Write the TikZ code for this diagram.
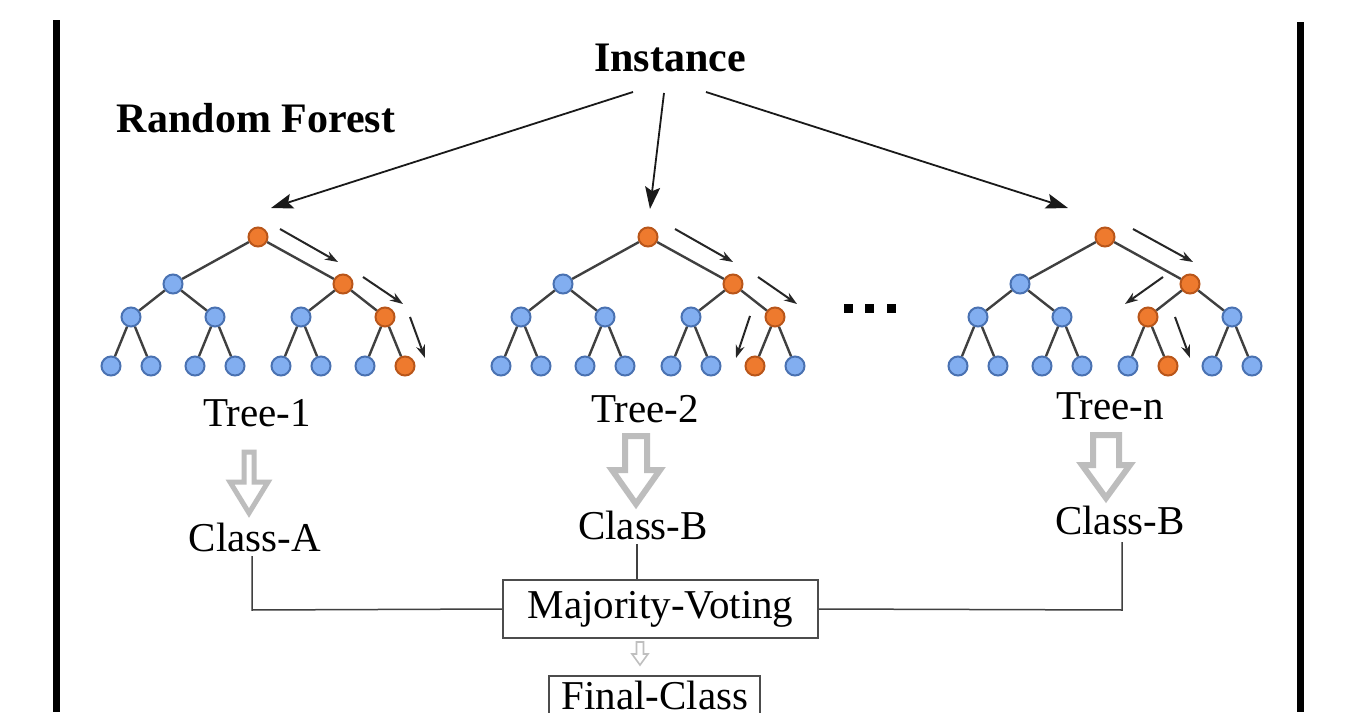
\documentclass[tikz,border=0pt]{standalone}
\usepackage{fontspec}
\setmainfont{Liberation Serif}
\usetikzlibrary{arrows.meta}
\definecolor{orng}{HTML}{EE7A2E}
\definecolor{orngd}{HTML}{B9561A}
\definecolor{blu}{HTML}{82AEF0}
\definecolor{blud}{HTML}{4A72B2}
\definecolor{edgec}{HTML}{404040}
\definecolor{hol}{HTML}{BDBDBD}
\tikzset{
  tn/.style={circle,draw=blud,fill=blu,line width=2pt,minimum size=19pt,inner sep=0pt},
  onode/.style={draw=orngd,fill=orng},
  edge/.style={draw=edgec,line width=2.4pt},
  pathar/.style={draw=black!85,line width=2pt,-{Stealth[length=13pt,width=9pt]}},
  bigar/.style={draw=black!90,line width=1.8pt,-{Stealth[length=22pt,width=15pt,inset=4pt]}},
  lab/.style={font=\fontsize{41}{46}\selectfont,inner sep=0pt},
  blab/.style={font=\fontsize{42}{46}\selectfont\bfseries,inner sep=0pt},
  conn/.style={draw=black!75,line width=1.5pt},
  boxn/.style={draw=black!70,line width=2pt,font=\fontsize{41}{46}\selectfont,inner sep=0pt},
  holar/.style={draw=hol,fill=white,line width=5pt,line join=miter},
  bar/.style={fill=black},
  % orange paths
  t1r/.style=onode, t1b/.style=onode, t1bb/.style=onode, t1bbb/.style=onode,
  t2r/.style=onode, t2b/.style=onode, t2bb/.style=onode, t2bba/.style=onode,
  tnr/.style=onode, tnb/.style=onode, tnba/.style=onode, tnbab/.style=onode,
}
% #1 id, #2 root x
\newcommand\drawtree[2]{%
  \node[tn,#1r/.try] (#1r) at (#2,237) {};
  \foreach \p/\dx in {a/-85,b/85}{
    \node[tn,#1\p/.try] (#1\p) at (#2+\dx,284) {};
    \draw[edge] (#1r) -- (#1\p);
  }
  \foreach \p/\q/\dx in {a/aa/-42,a/ab/42,b/ba/-42,b/bb/42}{
    \node[tn,#1\q/.try] (#1\q) at ([xshift=\dx pt,yshift=-33pt]#1\p.center) {};
    \draw[edge] (#1\p) -- (#1\q);
  }
  \foreach \q in {aa,ab,ba,bb}{
    \foreach \s/\dx in {a/-20,b/20}{
      \node[tn,#1\q\s/.try] (#1\q\s) at ([xshift=\dx pt,yshift=-49pt]#1\q.center) {};
      \draw[edge] (#1\q) -- (#1\q\s);
    }
  }
}
% hollow arrow: #1 cx, #2 top, #3 head start, #4 tip, #5 shaft hw, #6 head hw, #7 extra style
\newcommand\hollowarrow[7]{%
  \draw[holar,#7] (#1-#5,#2) -- (#1+#5,#2) -- (#1+#5,#3) -- (#1+#6,#3) -- (#1,#4)
     -- (#1-#6,#3) -- (#1-#5,#3) -- cycle;
}
\begin{document}
\begin{tikzpicture}[x=1pt,y=-1pt]
\useasboundingbox (0,0) rectangle (1360,727);
\fill[white] (0,0) rectangle (1360,727);
% side bars
\fill[bar] (53,20) rectangle (60,712);
\fill[bar] (1297,22) rectangle (1304,712);

% titles
\node[blab] (inst) at (670,58) {Instance};
\node[blab] (rf) at (256,118) {Random Forest};

% trees
\drawtree{t1}{258}
\drawtree{t2}{648}
\drawtree{tn}{1105}

% instance arrows
\coordinate (s1) at (633,92);
\coordinate (s2) at (664,93);
\coordinate (s3) at (706,92);
\coordinate (e1) at (271,208);
\coordinate (e2) at (650,209);
\coordinate (e3) at (1068,208);
\draw[bigar] (s1) -- (e1);
\draw[bigar] (s2) -- (e2);
\draw[bigar] (s3) -- (e3);

% path arrows tree 1
\draw[pathar] (280,229) -- (338,262);
\draw[pathar] (363,277) -- (403,304);
\draw[pathar] (410,317) -- (425,358);
% tree 2
\draw[pathar] (675,229) -- (733,262);
\draw[pathar] (758,277) -- (797,304);
\draw[pathar] (750,316) -- (736,358);
% tree n
\draw[pathar] (1133,229) -- (1193,262);
\draw[pathar] (1163,277) -- (1125,304);
\draw[pathar] (1175,317) -- (1190,358);

% dots
\foreach \x in {848,869,891}
  \fill[black] (\x-4.5,304.5) rectangle (\x+4.5,313.5);

% tree labels
\node[lab] (tl1) at (257,413) {Tree-1};
\node[lab] (tl2) at (645,409) {Tree-2};
\node[lab] (tln) at (1110,406) {Tree-n};

% hollow arrows
\hollowarrow{249}{452}{482}{513}{5}{19}{}
\hollowarrow{636}{436}{470}{504}{11}{24}{line width=6pt}
\hollowarrow{1106}{435}{465}{498}{13}{24}{line width=6pt}

% classes
\node[lab] (c1) at (255,537) {Class-A};
\node[lab] (c2) at (643,525) {Class-B};
\node[lab] (c3) at (1120,520) {Class-B};

% majority voting
\node[boxn,minimum width=315pt,minimum height=58pt] (mv) at (660.5,609) {Majority-Voting};
\coordinate (k1) at (252,610);
\coordinate (k3) at (1122,610);
\draw[conn] (252,556) -- (k1) -- (mv.west);
\draw[conn] (637,544) -- (mv.north -| 637,0);
\draw[conn] (1122,542) -- (k3) -- (mv.east);

% small hollow arrow
\hollowarrow{640}{642}{654}{665}{3.5}{8}{line width=1.6pt,draw=black!25}

% final class (clipped at bottom)
\begin{scope}
\clip (0,0) rectangle (1360,712);
\node[lab,anchor=base] (fc) at (655,709) {Final-Class};
\draw[draw=black!70,line width=2pt] (549,730) -- (549,676) -- (760,676) -- (760,730);
\end{scope}
\end{tikzpicture}
\end{document}
